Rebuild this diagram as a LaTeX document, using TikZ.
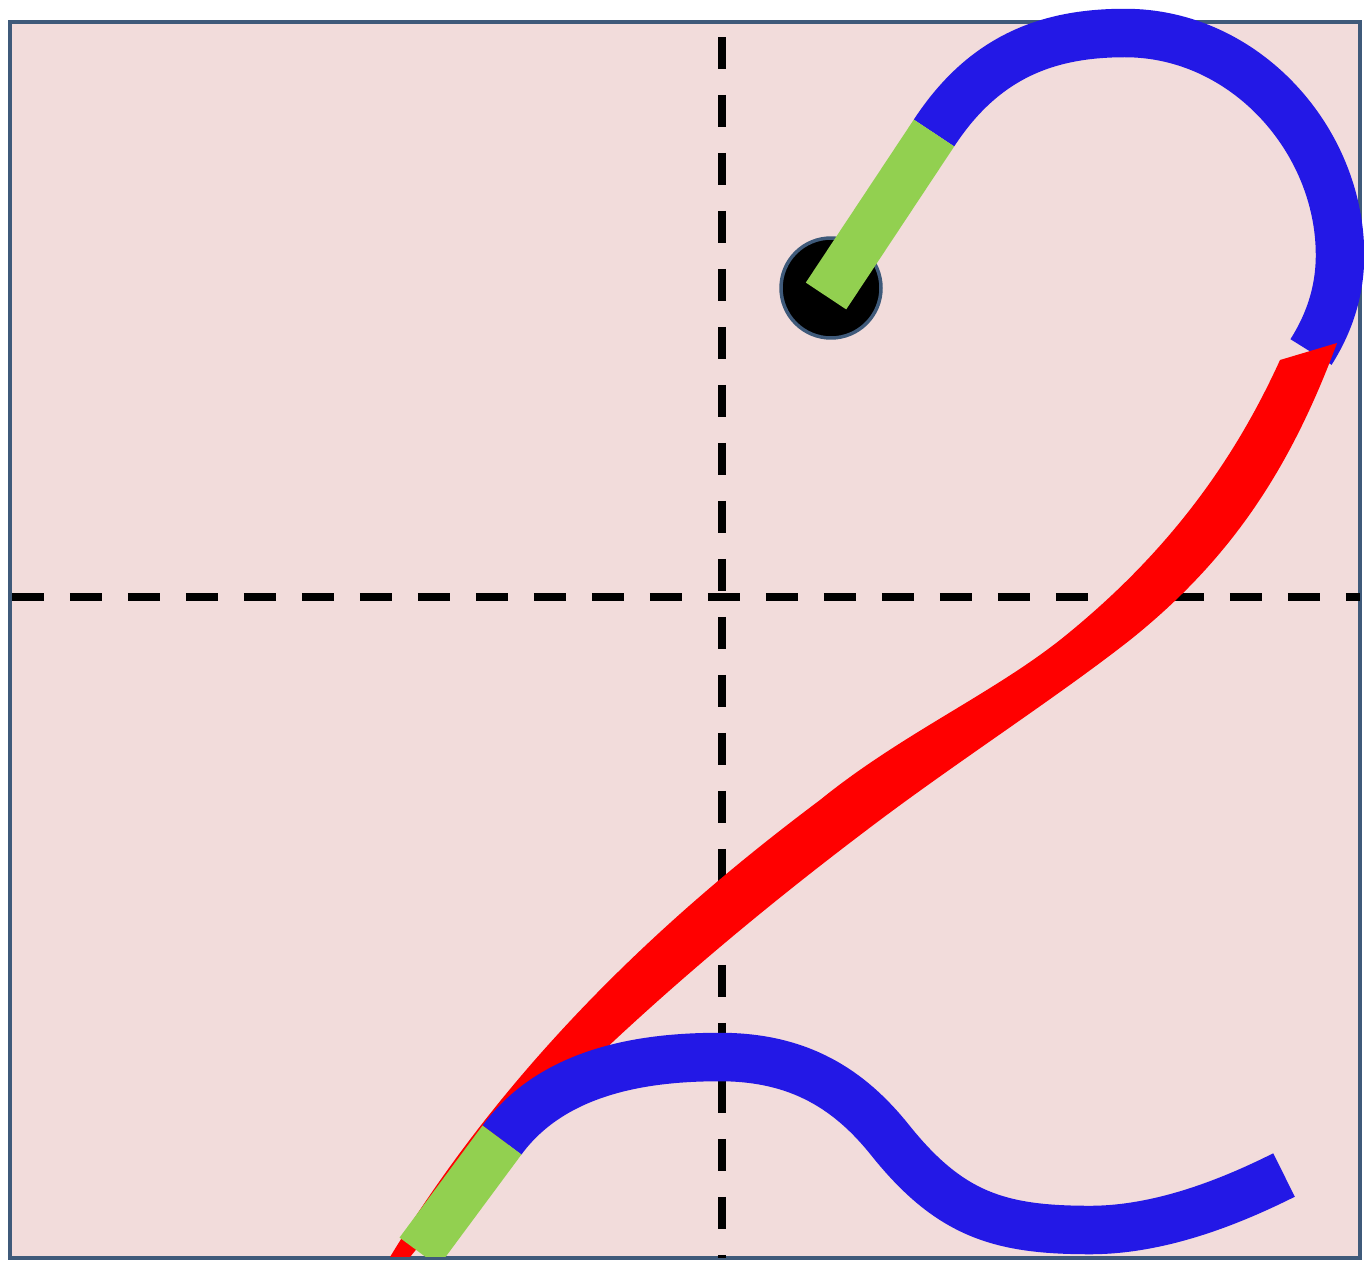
\documentclass[tikz,border=0pt]{standalone}
\usetikzlibrary{calc}
\definecolor{boxfill}{HTML}{F2DCDB}
\definecolor{boxline}{HTML}{3F5A7A}
\definecolor{inkblue}{HTML}{2318E6}
\definecolor{inkred}{HTML}{FF0000}
\definecolor{inkgreen}{HTML}{92D050}
\begin{document}
\begin{tikzpicture}[
    x=0.02cm, y=-0.02cm,
    frame/.style={fill=boxfill, draw=boxline, line width=0.09cm},
    guide/.style={black, line width=0.15cm, dash pattern=on 0.64cm off 0.52cm},
    pen/.style={line width=0.97cm, line cap=butt, line join=round},
    dotmark/.style={fill=black, draw=boxline, line width=0.07cm},
]
\useasboundingbox (0,0) rectangle (1364,1261);

% Box and guides
\draw[frame] (10,22) rectangle (1360,1258);
\draw[guide] (722,37) -- (722,1258);
\draw[guide] (12,597) -- (1360,597);

% Points
\coordinate (dot) at (831,288);
\coordinate (hookstart) at (826,296);
\coordinate (hookend) at (934,133);
\coordinate (bowend) at (1311,352);
\coordinate (tailtop) at (502,1140);
\coordinate (tailend) at (419,1252);
\coordinate (waveend) at (1284,1175);

% Start dot
\filldraw[dotmark] (dot) circle (1cm);

% Upper bow
\draw[pen, inkblue] (hookend) .. controls (985,55) and (1050,33) .. (1125,33)
    .. controls (1245,33) and (1340,140) .. (1340,255)
    .. controls (1340,290) and (1330,322) .. (bowend);

\begin{scope}
\clip (10,0) rectangle (1360,1256);
% Diagonal
\fill[inkred] (1337,343) .. controls (1290,470) and (1230,560) .. (1130,640)
    .. controls (1060,695) and (960,760) .. (880,820)
    .. controls (760,910) and (560,1070) .. (406,1262)
    -- (387,1262) .. controls (520,1040) and (700,890) .. (820,800)
    .. controls (900,735) and (990,695) .. (1060,640)
    .. controls (1160,560) and (1230,470) .. (1280,360) -- cycle;

% Base wave
\draw[pen, inkblue] (tailtop) .. controls (555,1068) and (650,1057) .. (720,1057)
    .. controls (800,1057) and (850,1090) .. (890,1140)
    .. controls (950,1215) and (1000,1230) .. (1090,1230)
    .. controls (1160,1230) and (1230,1202) .. (waveend);

% Lead-in strokes
\draw[pen, inkgreen] (tailtop) -- (tailend);
\end{scope}
\draw[pen, inkgreen] (hookstart) -- (hookend);

\end{tikzpicture}
\end{document}
